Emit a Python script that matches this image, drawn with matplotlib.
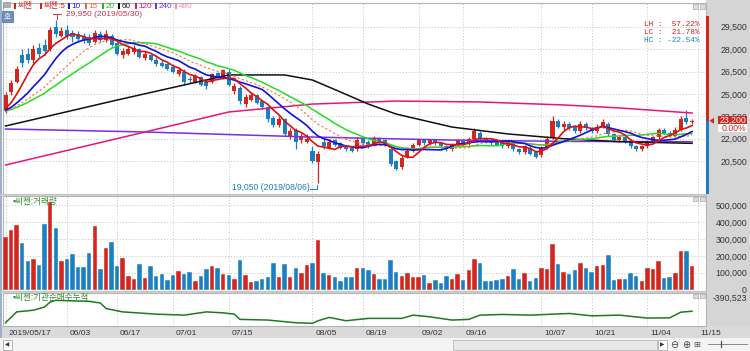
import matplotlib
matplotlib.use('Agg')
import matplotlib.pyplot as plt
import numpy as np
import pandas as pd
from matplotlib.patches import Rectangle, Polygon
from matplotlib.lines import Line2D

plt.rcParams['font.family'] = ['Liberation Sans', 'Noto Sans CJK KR', 'DejaVu Sans']

# ---------------- data ----------------
tick_idx = [0, 11, 20, 30, 40, 55, 64, 74, 82, 96, 105, 115, 124]
tick_labels = ['2019/05/17', '06/03', '06/17', '07/01', '07/15', '08/05', '08/19',
               '09/02', '09/16', '10/07', '10/21', '11/04', '11/15']

opens = [23900, 25100, 25800, 27600, 27700, 27300, 28100, 28300, 28000, 29500,
         28900, 29300, 29100, 29000, 28900, 28800, 28500, 29000, 28600, 28900,
         28400, 27600, 27700, 27800, 28000, 27400, 27600, 27300, 27100, 27000,
         26800, 26300, 26500, 26000, 25800, 26100, 25800, 25800, 26400, 26100,
         26500, 25200, 25400, 24300, 24600, 24900, 24500, 24100, 23400, 22900,
         23300, 22200, 22600, 21900, 21800, 21200, 20450, 21800, 21400, 21900,
         21700, 21500, 21400, 21300, 22000, 21800, 21600, 22000, 21900, 21300,
         20500, 20100, 20800, 21200, 21600, 21900, 21700, 21900, 21700, 21500,
         21300, 21600, 21900, 21700, 22000, 22400, 22000, 21900, 21800, 21700,
         21500, 21700, 21300, 21100, 21400, 21100, 20900, 21400, 22100, 23200,
         22800, 23000, 22800, 22500, 23000, 22700, 22500, 22800, 23000, 22300,
         21900, 22100, 21800, 21500, 21300, 21500, 21800, 22100, 22600, 22400,
         22200, 22600, 23400, 23100]
highs = [25100, 25900, 26900, 28000, 28100, 28300, 28400, 28700, 29500, 29950,
         29500, 29600, 29300, 29200, 29100, 29000, 29300, 29200, 29300, 29000,
         28500, 28100, 28200, 28300, 28100, 27900, 27700, 27500, 27300, 27100,
         27000, 26800, 26700, 26200, 26300, 26200, 25900, 26400, 26500, 26700,
         26700, 25700, 25500, 25000, 25100, 25000, 24600, 24200, 23500, 23500,
         23400, 22700, 22700, 22400, 22300, 21500, 21200, 22000, 22000, 22000,
         21800, 21600, 21500, 22100, 22100, 21900, 22200, 22100, 22000, 21400,
         20600, 20900, 21300, 21700, 22000, 22000, 22000, 22000, 21800, 21600,
         21700, 22000, 22000, 22100, 22700, 22500, 22100, 22000, 21900, 21800,
         21900, 21800, 21400, 21600, 21500, 21200, 21500, 22200, 23500, 23300,
         23200, 23100, 22900, 23200, 23100, 22800, 23000, 23300, 23100, 22400,
         22200, 22200, 21900, 21600, 21600, 21900, 22200, 22700, 22700, 22500,
         22800, 23500, 23900, 23300]
lows = [23700, 24900, 25700, 26800, 27100, 27100, 27500, 27600, 27900, 28800,
        28800, 28700, 28500, 28500, 28400, 28300, 28400, 28500, 28500, 28200,
        27600, 27400, 27600, 27700, 27400, 27300, 27200, 26900, 26800, 26600,
        26400, 26200, 25600, 25700, 25700, 25500, 25300, 25700, 26000, 26000,
        25500, 25000, 24300, 24100, 24500, 24300, 24000, 23100, 22800, 22800,
        22200, 22000, 21300, 21700, 21700, 20400, 19050, 21300, 21300, 21500,
        21300, 21200, 21100, 21200, 21600, 21400, 21500, 21700, 21500, 20200,
        19900, 20000, 20700, 21100, 21500, 21600, 21600, 21600, 21400, 21200,
        21200, 21500, 21600, 21600, 21900, 21900, 21700, 21600, 21500, 21400,
        21400, 21200, 21000, 21000, 20900, 20700, 20800, 21300, 22000, 22700,
        22600, 22600, 22400, 22400, 22600, 22400, 22400, 22700, 22200, 21800,
        21800, 21700, 21400, 21200, 21200, 21400, 21700, 22000, 22300, 22100,
        22100, 22500, 23000, 23000]
closes = [24900, 25700, 26700, 27100, 27300, 28000, 27700, 27900, 29300, 29000,
          29200, 28900, 28800, 28700, 28600, 28400, 29100, 28600, 29000, 28300,
          27700, 27900, 28000, 28100, 27500, 27700, 27300, 27000, 26900, 26700,
          26500, 26600, 25800, 25900, 26200, 25600, 25500, 26300, 26200, 26600,
          25600, 25500, 24500, 24800, 24900, 24400, 24100, 23300, 22900, 23300,
          22300, 22500, 21800, 22200, 22000, 20500, 21000, 21500, 21800, 21600,
          21400, 21300, 21200, 21900, 21700, 21500, 22000, 21800, 21600, 20300,
          20000, 20700, 21200, 21600, 21900, 21700, 21900, 21700, 21500, 21300,
          21600, 21900, 21700, 22000, 22500, 22000, 21800, 21700, 21600, 21500,
          21800, 21300, 21100, 21500, 21000, 20800, 21400, 22000, 23200, 22800,
          23000, 22700, 22500, 23000, 22700, 22500, 22800, 23100, 22300, 21900,
          22100, 21800, 21500, 21300, 21500, 21800, 22100, 22600, 22400, 22200,
          22600, 23300, 23100, 23200]
volume = [313000, 353000, 382000, 275000, 171000, 182000, 147000, 390000, 520000, 363000,
          167000, 180000, 210000, 135000, 135000, 216000, 376000, 124000, 245000, 284000,
          137000, 190000, 78000, 65000, 153000, 69000, 141000, 78000, 94000, 57000,
          88000, 108000, 94000, 106000, 53000, 82000, 124000, 137000, 129000, 92000,
          88000, 65000, 173000, 86000, 45000, 49000, 61000, 76000, 157000, 76000,
          149000, 73000, 129000, 100000, 145000, 157000, 296000, 96000, 86000, 73000,
          53000, 76000, 73000, 129000, 129000, 116000, 92000, 65000, 65000, 173000,
          104000, 80000, 96000, 73000, 76000, 86000, 41000, 57000, 41000, 80000,
          61000, 92000, 57000, 116000, 180000, 157000, 53000, 49000, 57000, 61000,
          82000, 122000, 65000, 100000, 49000, 69000, 129000, 124000, 269000, 153000,
          104000, 94000, 118000, 157000, 129000, 104000, 141000, 145000, 208000, 57000,
          65000, 65000, 100000, 82000, 49000, 129000, 124000, 169000, 69000, 75000,
          100000, 229000, 229000, 141000]
vol_up = ['R', 'R', 'R', 'B', 'B', 'R', 'B', 'B', 'R', 'B', 'R', 'B', 'B', 'B', 'B', 'B', 'R', 'B', 'R', 'B',
          'B', 'R', 'R', 'R', 'B', 'R', 'B', 'B', 'B', 'B', 'B', 'R', 'B', 'B', 'R', 'B', 'B', 'R', 'B', 'R',
          'B', 'R', 'B', 'R', 'R', 'B', 'B', 'B', 'B', 'R', 'B', 'R', 'B', 'R', 'R', 'B', 'R', 'B', 'R', 'B',
          'B', 'B', 'B', 'R', 'B', 'B', 'R', 'B', 'B', 'B', 'B', 'R', 'R', 'R', 'R', 'B', 'R', 'B', 'B', 'B',
          'R', 'R', 'B', 'R', 'R', 'B', 'B', 'B', 'B', 'B', 'R', 'B', 'B', 'R', 'B', 'B', 'R', 'R', 'R', 'B',
          'R', 'B', 'B', 'R', 'B', 'B', 'R', 'R', 'B', 'B', 'R', 'B', 'B', 'B', 'R', 'R', 'R', 'R', 'B', 'B',
          'R', 'R', 'B', 'R']

# level at which the short moving averages start at the left edge
ma_start_level = 23800

ma60_idx = [0, 20, 40, 50, 55, 60, 65, 70, 80, 90, 100, 110, 123]
ma60_val = [22850, 24590, 26270, 26270, 25930, 25130, 24320, 23650, 22780, 22320, 22000, 21800, 21690]
ma120_idx = [0, 25, 40, 55, 70, 85, 100, 110, 123]
ma120_val = [20240, 22450, 23790, 24320, 24520, 24460, 24260, 24060, 23720]
ma240_idx = [0, 25, 55, 80, 100, 123]
ma240_val = [22650, 22450, 22110, 21910, 21820, 21800]

inst_idx = [0, 2, 5, 7, 8, 9, 12, 15, 17, 18, 21, 27, 32, 36, 39, 41, 42, 47, 52, 55, 56, 58,
            61, 65, 71, 73, 76, 80, 83, 85, 89, 94, 101, 105, 110, 115, 119, 121, 123]
inst_val = [-624000, -404000, -370000, -304000, -204000, -170000, -180000, -190000, -224000,
            -336000, -404000, -450000, -470000, -404000, -424000, -450000, -556000, -570000,
            -624000, -636000, -584000, -516000, -584000, -536000, -536000, -470000, -504000,
            -570000, -556000, -470000, -456000, -470000, -436000, -484000, -470000, -530000,
            -524000, -410000, -390523]

price_ticks = [20500, 22000, 23500, 25000, 26500, 28000, 29500]
vol_ticks = [0, 100000, 200000, 300000, 400000, 500000]

hi_label = '29,950 (2019/05/30)'
lo_label = '19,050 (2019/08/06)'
hi_idx, hi_val = 9, 29950
lo_idx, lo_val = 56, 19050
last_price = 23200

# ---------------- style ----------------
UP = '#d2261e'
DN = '#1a80c2'
GRID = '#c4c4c4'
W, H = 750, 351
PLO, PHI = 18298, 31087

fig = plt.figure(figsize=(7.5, 3.51), dpi=100)
fig.patch.set_facecolor('white')


def R(x0, y0, x1, y1):
    return [x0 / W, 1 - y1 / H, (x1 - x0) / W, (y1 - y0) / H]


def prect(x0, y0, x1, y1, z=-5, **kw):
    fig.patches.append(Rectangle((x0 / W, 1 - y1 / H), (x1 - x0) / W, (y1 - y0) / H,
                                 transform=fig.transFigure, zorder=z, **kw))


def ptext(x, y, s, **kw):
    kw.setdefault('zorder', 6)
    fig.text(x / W, 1 - y / H, s, **kw)


def pline(xs, ys, z=6, **kw):
    fig.lines.append(Line2D([x / W for x in xs], [1 - y / H for y in ys],
                            transform=fig.transFigure, zorder=z, **kw))


# backgrounds
prect(706, 0, 750, 338, fc='#d5d5d5', ec='none')
prect(0, 326, 750, 338, fc='#dadada', ec='none')
prect(0, 0, 2.2, 338, fc='#9cb0c9', ec='none')
prect(0, 338, 750, 351, fc='#f4f4f4', ec='none')

n = len(closes)
x = np.arange(n)
XL = (-0.45, 125.5)

axp = fig.add_axes(R(3, 3, 706, 194))
axv = fig.add_axes(R(3, 195.5, 706, 291))
axi = fig.add_axes(R(3, 292.5, 706, 326))

for ax in (axp, axv, axi):
    ax.set_xlim(*XL)
    ax.set_facecolor('white')
    for s in ax.spines.values():
        s.set_color('#b4b4b4')
        s.set_linewidth(0.8)
    ax.set_xticks([])
    for t in tick_idx:
        ax.axvline(t, color=GRID, lw=0.7, ls=(0, (1, 2)), zorder=0)

# ---- price panel ----
axp.set_ylim(PLO, PHI)
for p in price_ticks:
    axp.axhline(p, color=GRID, lw=0.7, ls=(0, (1, 2)), zorder=0)
o = np.array(opens); c = np.array(closes); hh = np.array(highs); ll = np.array(lows)
colors = [UP if cc >= oo else DN for oo, cc in zip(o, c)]
axp.vlines(x, ll, hh, colors=colors, lw=0.9, zorder=2)
bot = np.minimum(o, c)
hgt = np.maximum(np.abs(c - o), 40)
axp.bar(x, hgt, bottom=bot, width=0.72, color=colors, lw=0, zorder=3)


def sma(period):
    padded = pd.Series([ma_start_level] * (period - 1) + closes, dtype=float)
    return padded.rolling(period).mean().to_numpy()[period - 1:]


axp.plot(ma240_idx, ma240_val, color='#7a2ee6', lw=1.1, zorder=4)
axp.plot(ma120_idx, ma120_val, color='#e6157e', lw=1.1, zorder=4)
axp.plot(ma60_idx, ma60_val, color='#111111', lw=1.1, zorder=4)
axp.plot(x, sma(20), color='#22dd22', lw=1.1, zorder=4)
axp.plot(x, sma(15), color='#ff6a3c', lw=0.8, ls=(0, (2, 2)), zorder=4)
axp.plot(x, sma(10), color='#1010e0', lw=1.2, zorder=5)
axp.plot(x, sma(5), color='#e01010', lw=1.2, zorder=5)

axp.yaxis.tick_right()
axp.set_yticks(price_ticks)
axp.set_yticklabels([f'{p:,}' for p in price_ticks])
axp.tick_params(axis='y', length=0, pad=29.5, labelsize=6.3, labelcolor='#333333')
for lb in axp.get_yticklabels():
    lb.set_ha('right')

# ---- volume panel ----
axv.set_ylim(-8900, 559000)
for v in vol_ticks[1:]:
    axv.axhline(v, color=GRID, lw=0.7, ls=(0, (1, 2)), zorder=0)
vcol = [UP if k == 'R' else DN for k in vol_up]
axv.bar(x, volume, width=0.8, color=vcol, edgecolor='white', lw=0.3, zorder=3)
axv.yaxis.tick_right()
axv.set_yticks(vol_ticks)
axv.set_yticklabels([f'{v:,}' for v in vol_ticks])
axv.tick_params(axis='y', length=0, pad=29.5, labelsize=6.3, labelcolor='#333333')
for lb in axv.get_yticklabels():
    lb.set_ha('right')

# ---- institution cumulative panel ----
axi.set_ylim(-690523, -10523)
axi.set_yticks([])
axi.plot(inst_idx, inst_val, color='#1d7a1d', lw=1.1, zorder=3)

# x tick labels
for t, lab in zip(tick_idx, tick_labels):
    axi.annotate(lab, xy=(t, 0), xycoords=('data', 'axes fraction'), xytext=(2.0, -2.6),
                 textcoords='offset points', ha='left', va='top', fontsize=6.1,
                 color='#333333', annotation_clip=False)

# ---- titles / legend ----
prect(3, 2, 10, 7, z=6, fc='#b0b0b0', ec='#8a8a8a', lw=0.4)
prect(1.5, 11, 12.5, 22, z=6, fc='#6f8fb6', ec='#4d6c94', lw=0.5)
ptext(7, 16.8, '호', fontsize=5.5, color='white', ha='center', va='center')

legend = [(14, '씨젠', '#d81c1c'), (40, '씨젠:5', '#d81c1c'), (68, '10', '#1a1ad8'),
          (85, '15', '#ff5a36'), (102, '20', '#22bb22'), (118, '60', '#111111'),
          (135, '120', '#e0107e'), (155, '240', '#6a30e8'), (175, '480', '#f08cb8')]
for lx, lt, lc in legend:
    prect(lx, 3.0, lx + 2, 8.5, z=6, fc=lc, ec='none')
    ptext(lx + 3.5, 6.0, lt, fontsize=5.9, color=lc, ha='left', va='center')

ptext(66, 14.0, hi_label, fontsize=6.0, color='#c8344e', ha='left', va='center')
pline([53, 61], [14, 14], color='#c8344e', lw=0.7)
pline([57, 57], [14, 18.5], color='#c8344e', lw=0.7)

ptext(232, 187.5, lo_label, fontsize=6.2, color='#1a80c2', ha='left', va='center')
pline([310, 317], [188.5, 188.5], color='#1a80c2', lw=0.7)
pline([317, 317], [188.5, 184.5], color='#1a80c2', lw=0.7)

ptext(700, 24, 'LH :  57.22%', fontsize=5.6, color='#d81c1c', ha='right', va='center',
      family='Liberation Mono')
ptext(700, 32.3, 'LC :  21.78%', fontsize=5.6, color='#d81c1c', ha='right', va='center',
      family='Liberation Mono')
ptext(700, 40.5, 'HC : -22.54%', fontsize=5.6, color='#1a80c2', ha='right', va='center',
      family='Liberation Mono')

# panel corner buttons
for yy in (4, 196.5, 293.5):
    prect(693, yy, 698, yy + 4.5, z=6, fc='#dedede', ec='#9a9a9a', lw=0.4)
    prect(699.5, yy, 704.5, yy + 4.5, z=6, fc='#dedede', ec='#9a9a9a', lw=0.4)

ptext(13, 201.5, '▪씨젠:거래량', fontsize=6.2, color='#2a8a2a', ha='left', va='center')
ptext(13, 297.5, '▪씨젠:기관순매수누적', fontsize=6.2, color='#2a8a2a', ha='left', va='center')
ptext(747, 298, '-390,523', fontsize=6.3, color='#333333', ha='right', va='center')

# range bar and current price marker
yp = lambda p: 194 - (p - PLO) / (PHI - PLO) * 191
prect(706.3, yp(hi_val) - 4, 708.6, yp(last_price), z=6, fc='#d2261e', ec='none')
prect(706.3, yp(last_price), 708.6, 194, z=6, fc='#1a80c2', ec='none')
ycur = yp(last_price)
fig.patches.append(Polygon([[709.5 / W, 1 - ycur / H], [714 / W, 1 - (ycur - 3) / H],
                            [714 / W, 1 - (ycur + 3) / H]], closed=True,
                           transform=fig.transFigure, fc='#d2261e', ec='none', zorder=7))
prect(718, ycur - 4.5, 747, ycur + 3.5, z=7, fc='#d2261e', ec='none')
ptext(746, ycur - 0.6, f'{last_price:,}', fontsize=6.3, color='white', ha='right', va='center', zorder=8)
prect(718, ycur + 3.5, 747, ycur + 11, z=7, fc='white', ec='none')
ptext(746, ycur + 7.3, '0.00%', fontsize=6.3, color='#d2261e', ha='right', va='center', zorder=8)

# separators
pline([0, 706], [194.7, 194.7], color='#c8c8c8', lw=1.2, z=1)
pline([0, 706], [291.7, 291.7], color='#c8c8c8', lw=1.2, z=1)

# bottom scroll bar
prect(3, 340, 12, 349.5, z=6, fc='white', ec='#9a9a9a', lw=0.5)
ptext(7.5, 344.8, '◀', fontsize=4, color='#333333', ha='center', va='center', family='DejaVu Sans')
prect(453, 340, 657, 349.5, z=6, fc='#e8e8e8', ec='#b0b0b0', lw=0.5)
prect(658, 340, 667, 349.5, z=6, fc='white', ec='#9a9a9a', lw=0.5)
ptext(662.5, 344.8, '▶', fontsize=4, color='#333333', ha='center', va='center', family='DejaVu Sans')
ptext(674, 344.8, '⊖', fontsize=7, color='#444444', ha='center', va='center', family='DejaVu Sans')
ptext(686, 344.8, '⊕', fontsize=7, color='#444444', ha='center', va='center', family='DejaVu Sans')
ptext(697, 344.8, '⊞', fontsize=6, color='#555555', ha='center', va='center', family='DejaVu Sans')
pline([708, 747], [344, 344], color='#777777', lw=0.6)
pline([721, 721], [341, 347], color='#555555', lw=0.9)

fig.savefig('out.png', dpi=100, facecolor=fig.get_facecolor())
